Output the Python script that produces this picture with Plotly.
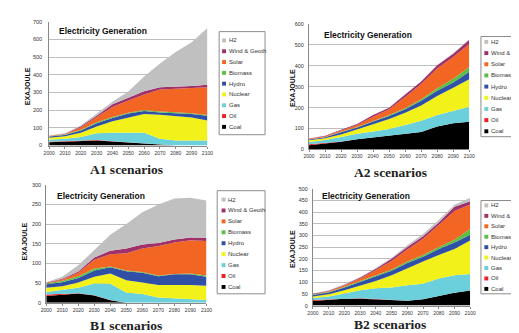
import plotly.graph_objects as go

W, H = 519, 333

YEARS = [2000, 2010, 2020, 2030, 2040, 2050, 2060, 2070, 2080, 2090, 2100]
YEAR_LABELS = [str(y) for y in YEARS]
SERIES = ["Coal", "Oil", "Gas", "Nuclear", "Hydro", "Biomass", "Solar", "Wind & Geoth", "H2"]
COLORS = ["#000000", "#ee1c24", "#6ccfdc", "#f2f21a", "#3050a8", "#5cbf45", "#f26522", "#a0306a", "#c0c0c0"]

# ---- A1 (EJ) ----
A1_COAL = [18, 21, 24, 29, 23, 17, 14, 7, 0, 0, 0]
A1_OIL = [4, 3, 2, 2, 1, 1, 1, 0, 0, 0, 0]
A1_GAS = [11, 14, 22, 39, 48, 54, 57, 32, 28, 28, 28]
A1_NUCLEAR = [11, 14, 24, 37, 65, 87, 106, 135, 140, 131, 113]
A1_HYDRO = [7, 8, 13, 19, 19, 22, 18, 13, 15, 19, 27]
A1_BIOMASS = [2, 2, 4, 5, 5, 5, 5, 5, 5, 5, 5]
A1_SOLAR = [2, 3, 15, 28, 57, 69, 88, 125, 134, 143, 157]
A1_WIND = [1, 2, 5, 9, 15, 15, 18, 13, 11, 11, 14]
A1_H2 = [1, 2, 4, 10, 15, 36, 83, 134, 196, 248, 321]

# ---- A2 ----
A2_COAL = [20, 27, 37, 49, 58, 66, 73, 83, 110, 125, 132]
A2_OIL = [5, 3, 1, 0, 0, 0, 0, 0, 0, 0, 0]
A2_GAS = [11, 15, 21, 26, 28, 32, 44, 54, 54, 59, 72]
A2_NUCLEAR = [8, 8, 13, 20, 34, 47, 58, 73, 91, 111, 131]
A2_HYDRO = [4, 5, 10, 10, 13, 15, 17, 22, 25, 25, 36]
A2_BIOMASS = [1, 1, 2, 2, 3, 4, 5, 8, 12, 17, 23]
A2_SOLAR = [2, 4, 6, 10, 20, 28, 53, 72, 94, 104, 109]
A2_WIND = [1, 3, 4, 5, 8, 7, 12, 12, 16, 16, 21]
A2_H2 = [0, 0, 0, 0, 0, 1, 1, 1, 1, 2, 2]

# ---- B1 ----
B1_COAL = [17, 20, 23, 18, 6, 0, 0, 0, 0, 0, 0]
B1_OIL = [4, 2, 1, 1, 1, 0, 0, 0, 0, 0, 0]
B1_GAS = [6, 10, 14, 30, 41, 26, 22, 13, 11, 8, 7]
B1_NUCLEAR = [11, 10, 13, 17, 26, 31, 29, 32, 34, 37, 36]
B1_HYDRO = [9, 10, 12, 16, 16, 23, 25, 22, 27, 27, 23]
B1_BIOMASS = [2, 4, 4, 5, 2, 2, 2, 2, 1, 2, 3]
B1_SOLAR = [1, 3, 9, 22, 31, 44, 60, 75, 80, 85, 88]
B1_WIND = [1, 2, 3, 6, 9, 12, 10, 8, 8, 7, 8]
B1_H2 = [1, 5, 16, 19, 41, 62, 82, 98, 104, 101, 95]

# ---- B2 ----
B2_COAL = [20, 24, 29, 29, 27, 23, 21, 27, 42, 55, 65]
B2_OIL = [4, 2, 2, 2, 1, 1, 0, 0, 0, 0, 0]
B2_GAS = [8, 13, 21, 35, 46, 53, 66, 67, 74, 75, 70]
B2_NUCLEAR = [7, 10, 14, 21, 31, 53, 74, 95, 100, 112, 144]
B2_HYDRO = [6, 7, 11, 14, 17, 19, 21, 20, 26, 28, 24]
B2_BIOMASS = [2, 2, 4, 4, 5, 5, 7, 7, 9, 12, 25]
B2_SOLAR = [2, 3, 6, 11, 25, 37, 51, 70, 94, 123, 105]
B2_WIND = [2, 3, 2, 4, 6, 9, 11, 11, 11, 18, 14]
B2_H2 = [1, 2, 2, 2, 3, 5, 7, 9, 10, 9, 14]

CHART_TITLE = "Electricity Generation"
Y_TITLE = "EXAJOULE"

def px(x):
    return x / W

def py(y):
    return 1 - y / H

panels = [
    dict(name="A1 scenarios",
         data=[A1_COAL, A1_OIL, A1_GAS, A1_NUCLEAR, A1_HYDRO, A1_BIOMASS, A1_SOLAR, A1_WIND, A1_H2],
         ymax=700, dtick=100, box=(36, 198, 11, 137), standoff=5,
         title=(44, 20), ytitle=(14, 77), caption=(115, 161),
         legend=(210, 257, 21, 126), leg_first=30, leg_last=118, sw=213, tx=218),
    dict(name="A2 scenarios",
         data=[A2_COAL, A2_OIL, A2_GAS, A2_NUCLEAR, A2_HYDRO, A2_BIOMASS, A2_SOLAR, A2_WIND, A2_H2],
         ymax=600, dtick=100, box=(302, 466, 13, 141), standoff=3,
         title=(315, 24), ytitle=(285, 78), caption=(385, 164),
         legend=(478, 530, 26, 128), leg_first=31.5, leg_last=122.5, sw=481.5, tx=486),
    dict(name="B1 scenarios",
         data=[B1_COAL, B1_OIL, B1_GAS, B1_NUCLEAR, B1_HYDRO, B1_BIOMASS, B1_SOLAR, B1_WIND, B1_H2],
         ymax=300, dtick=50, box=(33, 197, 177, 297), standoff=3,
         title=(42, 188), ytitle=(11, 235), caption=(115, 320),
         legend=(208, 257, 183, 288), leg_first=192, leg_last=281, sw=212.5, tx=217),
    dict(name="B2 scenarios",
         data=[B2_COAL, B2_OIL, B2_GAS, B2_NUCLEAR, B2_HYDRO, B2_BIOMASS, B2_SOLAR, B2_WIND, B2_H2],
         ymax=500, dtick=50, box=(306, 467, 181, 300), standoff=3,
         title=(313, 188), ytitle=(285, 242), caption=(385, 319),
         legend=(478, 530, 193, 288), leg_first=198, leg_last=283, sw=481.5, tx=486),
]

fig = go.Figure()
shapes = []
annotations = []
layout_axes = {}
FONT = "Arial, 'Liberation Sans', sans-serif"

for i, p in enumerate(panels):
    n = "" if i == 0 else str(i + 1)
    xa, ya = "x" + n, "y" + n
    for name, vals, col in zip(SERIES, p["data"], COLORS):
        fig.add_trace(go.Scatter(
            x=YEARS, y=vals, name=name, xaxis=xa, yaxis=ya,
            stackgroup="s" + str(i), mode="lines",
            line=dict(width=0, color=col), fillcolor=col,
            showlegend=False, hoverinfo="skip"))
    x0, x1, y0, y1 = p["box"]
    layout_axes["xaxis" + n] = dict(
        domain=[px(x0), px(x1)], anchor=ya, range=[2000, 2100],
        tickvals=YEARS, ticktext=YEAR_LABELS, tickfont=dict(size=5, color="#333", family=FONT),
        ticks="outside", ticklen=2, tickcolor="#888", showline=True, linecolor="#888",
        linewidth=1, showgrid=False, zeroline=False, fixedrange=True)
    layout_axes["yaxis" + n] = dict(
        domain=[py(y1), py(y0)], anchor=xa, range=[0, p["ymax"]], dtick=p["dtick"],
        tick0=0, tickfont=dict(size=5.5, color="#333", family=FONT),
        ticks="", ticklabelstandoff=p["standoff"], showline=True, linecolor="#888", linewidth=1,
        showgrid=True, gridcolor="#bdbdbd", gridwidth=1, zeroline=False, fixedrange=True)
    # chart title
    annotations.append(dict(
        x=px(p["title"][0]), y=py(p["title"][1]), xref="paper", yref="paper",
        xanchor="left", yanchor="middle", showarrow=False, text="<b>" + CHART_TITLE + "</b>",
        font=dict(size=8.5, color="#111", family=FONT)))
    # y title
    annotations.append(dict(
        x=px(p["ytitle"][0]), y=py(p["ytitle"][1]), xref="paper", yref="paper",
        xanchor="center", yanchor="middle", showarrow=False, textangle=-90,
        text="<b>" + Y_TITLE + "</b>", font=dict(size=7, color="#111", family=FONT)))
    # caption
    annotations.append(dict(
        x=px(p["caption"][0]), y=py(p["caption"][1]), xref="paper", yref="paper",
        xanchor="center", yanchor="middle", showarrow=False, text="<b>" + p["name"] + "</b>",
        font=dict(size=13.5, color="#222", family="'Liberation Serif', 'Times New Roman', serif")))
    # legend box
    lx0, lx1, ly0, ly1 = p["legend"]
    shapes.append(dict(type="rect", xref="paper", yref="paper",
                       x0=px(lx0), x1=px(lx1), y0=py(ly1), y1=py(ly0),
                       line=dict(color="#8c8c8c", width=1), fillcolor="white", layer="below"))
    step = (p["leg_last"] - p["leg_first"]) / (len(SERIES) - 1)
    for k, (name, col) in enumerate(zip(reversed(SERIES), reversed(COLORS))):
        cy = p["leg_first"] + k * step
        shapes.append(dict(type="rect", xref="paper", yref="paper",
                           x0=px(p["sw"]), x1=px(p["sw"] + 4), y0=py(cy + 2), y1=py(cy - 2),
                           line=dict(width=0), fillcolor=col))
        annotations.append(dict(
            x=px(p["tx"]), y=py(cy), xref="paper", yref="paper", xanchor="left", yanchor="middle",
            showarrow=False, text=name, font=dict(size=6, color="#333", family=FONT)))

fig.update_layout(
    width=W, height=H, margin=dict(l=0, r=0, t=0, b=0),
    paper_bgcolor="white", plot_bgcolor="white", showlegend=False,
    shapes=shapes, annotations=annotations, **layout_axes)

fig.write_html("out.html")
